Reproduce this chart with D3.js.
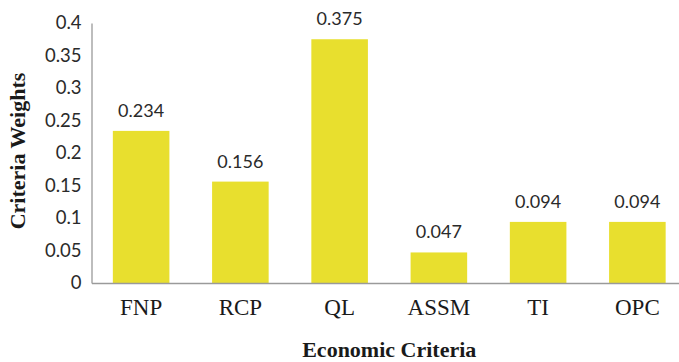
<!DOCTYPE html>
<html>
<head>
<meta charset="utf-8">
<script src="https://cdn.jsdelivr.net/npm/d3@7"></script>
<style>
  html, body { margin: 0; padding: 0; background: #fff; }
  svg { display: block; }
</style>
</head>
<body>
<svg id="chart" width="679" height="362"></svg>
<script>
// Economic criteria and their weights
const categories = ["FNP", "RCP", "QL", "ASSM", "TI", "OPC"];
const weights = [0.234, 0.156, 0.375, 0.047, 0.094, 0.094];
const valueLabels = ["0.234", "0.156", "0.375", "0.047", "0.094", "0.094"];
const yTicks = [0, 0.05, 0.1, 0.15, 0.2, 0.25, 0.3, 0.35, 0.4];
const yTickLabels = ["0", "0.05", "0.1", "0.15", "0.2", "0.25", "0.3", "0.35", "0.4"];

const svg = d3.select("#chart");
const margin = { left: 91.5, right: -8, top: 23, bottom: 79 };
const W = 679, H = 362;

const x = d3.scaleBand()
  .domain(categories)
  .range([margin.left, W - margin.right])
  .paddingInner(0.43)
  .paddingOuter(0.215);

const y = d3.scaleLinear()
  .domain([0, 0.4])
  .range([H - margin.bottom, margin.top]);

// Bars
svg.append("g").selectAll("rect")
  .data(categories)
  .join("rect")
  .attr("x", d => x(d))
  .attr("width", x.bandwidth())
  .attr("y", (d, i) => y(weights[i]))
  .attr("height", (d, i) => y(0) - y(weights[i]))
  .attr("fill", "#e8df2e");

// Value labels above the bars
svg.append("g").selectAll("text")
  .data(categories)
  .join("text")
  .attr("x", d => x(d) + x.bandwidth() / 2)
  .attr("y", (d, i) => y(weights[i]) - 14)
  .attr("text-anchor", "middle")
  .attr("font-family", "Lato, 'Open Sans', sans-serif")
  .attr("font-size", 18)
  .attr("fill", "#2a2a2a")
  .text((d, i) => valueLabels[i]);

// Y axis
const yAxis = svg.append("g")
  .attr("transform", `translate(${margin.left},0)`)
  .call(d3.axisLeft(y).tickValues(yTicks)
    .tickFormat((d, i) => yTickLabels[i]).tickSize(0).tickPadding(10));
yAxis.select(".domain").attr("stroke", "#9a9a9a").attr("stroke-width", 1.3);
yAxis.selectAll("text")
  .attr("font-family", "Lato, 'Open Sans', sans-serif")
  .attr("font-size", 18.5)
  .attr("fill", "#2a2a2a");

// X axis
const xAxis = svg.append("g")
  .attr("transform", `translate(0,${y(0)})`)
  .call(d3.axisBottom(x).tickSize(0).tickPadding(16));
xAxis.select(".domain").attr("stroke", "#9a9a9a").attr("stroke-width", 1.3);
xAxis.selectAll("text")
  .attr("font-family", "'Liberation Serif', 'DejaVu Serif', serif")
  .attr("font-size", 23)
  .attr("fill", "#1a1a1a");

// Axis titles
svg.append("text")
  .attr("x", (margin.left + 687) / 2)
  .attr("y", 357)
  .attr("text-anchor", "middle")
  .attr("font-family", "'Liberation Serif', serif")
  .attr("font-weight", "bold")
  .attr("font-size", 22)
  .attr("fill", "#1a1a1a")
  .text("Economic Criteria");

svg.append("text")
  .attr("transform", "translate(25,151) rotate(-90)")
  .attr("text-anchor", "middle")
  .attr("font-family", "'Liberation Serif', serif")
  .attr("font-weight", "bold")
  .attr("font-size", 22)
  .attr("fill", "#1a1a1a")
  .text("Criteria Weights");
</script>
</body>
</html>
